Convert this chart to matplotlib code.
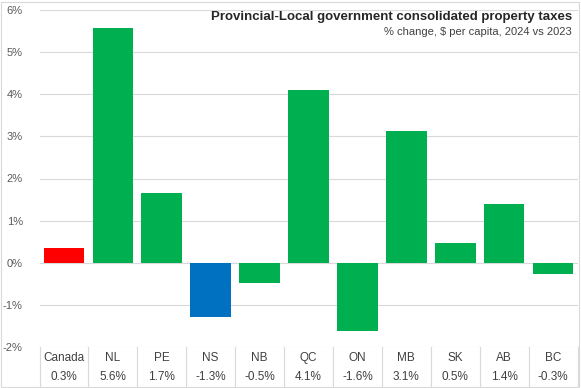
import matplotlib.pyplot as plt
from matplotlib.patches import Rectangle
import matplotlib.transforms as mtransforms

regions = ['Canada', 'NL', 'PE', 'NS', 'NB', 'QC', 'ON', 'MB', 'SK', 'AB', 'BC']
pct_change = [0.34, 5.58, 1.65, -1.29, -0.49, 4.10, -1.63, 3.12, 0.46, 1.39, -0.26]
labels = ['0.3%', '5.6%', '1.7%', '-1.3%', '-0.5%', '4.1%', '-1.6%', '3.1%', '0.5%', '1.4%', '-0.3%']
colors = ['#FF0000', '#00B050', '#00B050', '#0070C0', '#00B050', '#00B050',
          '#00B050', '#00B050', '#00B050', '#00B050', '#00B050']

plt.rcParams['font.family'] = ['Liberation Sans', 'DejaVu Sans']

W, H = 581, 388
fig = plt.figure(figsize=(W / 100, H / 100), dpi=100)
# plot area in pixels
x0, x1, ytop, ybot = 39.5, 577.5, 10, 347
ax = fig.add_axes([x0 / W, 1 - ybot / H, (x1 - x0) / W, (ybot - ytop) / H])

xs = range(len(regions))
ax.bar(xs, pct_change, width=0.83, color=colors, zorder=3)
ax.set_xlim(-0.5, len(regions) - 0.5)
ax.set_ylim(-2, 6)
ax.set_yticks(range(-2, 7))
ax.set_yticklabels([f'{v}%' for v in range(-2, 7)], color='#595959', fontsize=8)
ax.tick_params(axis='y', length=0, pad=12)
ax.set_xticks([])
ax.grid(axis='y', color='#D9D9D9', linewidth=0.8, zorder=0)
for s in ax.spines.values():
    s.set_visible(False)

# data table below the plot
tr = mtransforms.blended_transform_factory(ax.transData, fig.transFigure)
y_line_bot = 1 - 386 / H
for i in range(len(regions) + 1):
    ax.plot([i - 0.5, i - 0.5], [1 - ybot / H, y_line_bot], transform=tr,
            color='#D9D9D9', linewidth=0.8, clip_on=False)
for i, (r, l) in enumerate(zip(regions, labels)):
    ax.text(i, 1 - 358 / H, r, transform=tr, ha='center', va='center',
            fontsize=8.5, color='#404040')
    ax.text(i, 1 - 377 / H, l, transform=tr, ha='center', va='center',
            fontsize=8.5, color='#404040')

# title
fig.text(572 / W, 1 - 17 / H, 'Provincial-Local government consolidated property taxes',
         ha='right', va='center', fontsize=9.5, fontweight='bold', color='#262626')
fig.text(572 / W, 1 - 32 / H, '% change, $ per capita, 2024 vs 2023',
         ha='right', va='center', fontsize=8, color='#404040')

# outer border
fig.patches.append(Rectangle((1 / W, 1 / H), (W - 3) / W, (H - 3) / H,
                             transform=fig.transFigure, fill=False,
                             edgecolor='#D9D9D9', linewidth=0.8))

fig.savefig('out.png', dpi=100)
